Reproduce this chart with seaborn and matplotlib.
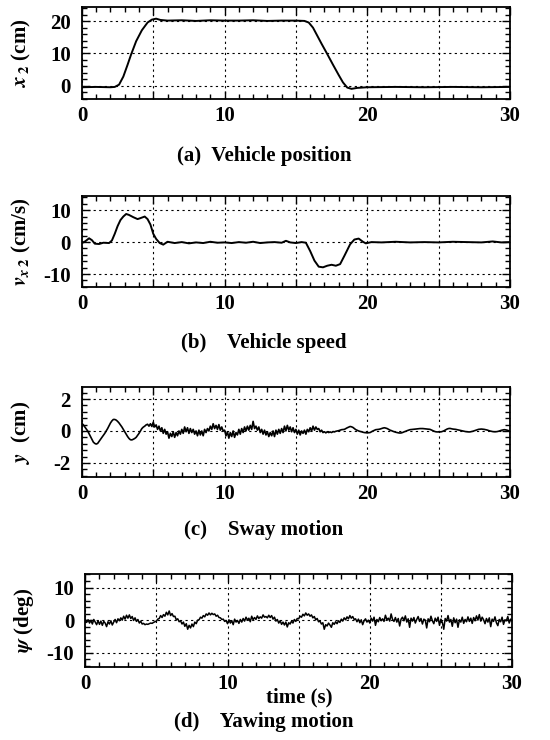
import numpy as np
import pandas as pd
import seaborn as sns
import matplotlib
matplotlib.use("Agg")
import matplotlib.pyplot as plt
from matplotlib.ticker import MultipleLocator, FuncFormatter

# (a) vehicle position x2 [cm]
pos_t = [0, 1.0, 2.0, 2.3, 2.6, 2.9, 3.2, 3.44, 3.8, 4.2, 4.6, 4.9, 5.2, 5.5, 6.0,
         7.0, 8.0, 9.0, 10.0, 11.0, 12.0, 13.0, 14.0, 15.0, 15.6, 15.9, 16.2, 16.5,
         16.8, 17.2, 17.6, 18.0, 18.3, 18.6, 18.9, 19.3, 20, 22, 24, 26, 28, 30]
pos_x2 = [-0.5, -0.4, -0.5, -0.4, 0.3, 2.8, 6.5, 9.6, 13.8, 17.2, 19.6, 20.5, 20.8,
          20.4, 20.2, 20.3, 20.1, 20.3, 20.2, 20.2, 20.3, 20.1, 20.2, 20.2, 20.1,
          19.6, 18.0, 15.5, 13.0, 9.8, 6.5, 3.3, 1.0, -0.6, -1.0, -0.7, -0.5, -0.4,
          -0.5, -0.4, -0.5, -0.4]

# (b) vehicle speed v_x2 [cm/s]
spd_t = [0, 0.25, 0.5, 0.7, 0.9, 1.2, 1.5, 1.9, 2.1, 2.3, 2.5, 2.7, 2.9, 3.1, 3.3,
         3.6, 3.9, 4.1, 4.4, 4.6, 4.8, 5.0, 5.2, 5.45, 5.7, 6.0, 6.5, 7.0, 7.5, 8.0,
         8.5, 9.0, 9.5, 10.0, 10.5, 11.0, 11.5, 12.0, 12.5, 13.0, 13.5, 14.0, 14.3,
         14.6, 15.0, 15.4, 15.7, 16.0, 16.3, 16.6, 16.9, 17.2, 17.5, 17.8, 18.1,
         18.4, 18.8, 19.1, 19.4, 19.7, 19.9, 20.3, 21, 22, 23, 24, 25, 26, 27, 28,
         28.8, 29.4, 30]
spd_v = [-0.3, 0.3, 1.2, 0.6, -0.5, -0.6, -0.2, -0.3, 0.5, 2.6, 5.0, 6.9, 8.0, 8.8,
         8.5, 7.8, 7.2, 7.5, 8.0, 7.2, 5.5, 2.6, 1.0, -0.3, -0.8, 0.1, -0.3, 0.0,
         -0.4, -0.1, -0.3, 0.1, -0.2, -0.1, -0.3, 0.0, -0.2, 0.1, -0.3, -0.1, 0.0,
         -0.2, 0.4, -0.1, -0.3, 0.0, -0.2, -2.8, -5.8, -7.7, -7.9, -7.4, -7.1, -7.4,
         -6.9, -4.3, -0.7, 0.8, 1.1, 0.1, -0.4, 0.0, -0.1, 0.1, -0.1, 0.0, -0.1, 0.1,
         0.0, -0.1, 0.2, -0.1, 0.0]

# (c) sway y [cm] and (d) yaw psi [deg], sampled every 0.1 s from 0 to 30 s
sample_t = np.linspace(0, 30, 301)
sway_y = [
    0.47, 0.38, 0.25, 0.12, 0.0, -0.18, -0.35, -0.52, -0.7, -0.78,
    -0.82, -0.78, -0.65, -0.52, -0.4, -0.28, -0.15, 0.0, 0.15, 0.33,
    0.5, 0.63, 0.72, 0.72, 0.68, 0.6, 0.5, 0.38, 0.25, 0.1,
    -0.05, -0.2, -0.35, -0.47, -0.55, -0.56, -0.52, -0.47, -0.4, -0.28,
    -0.15, 0.0, 0.15, 0.24, 0.3, 0.38, 0.42, 0.3, 0.45, 0.28,
    0.55, 0.25, 0.38, 0.1, 0.3, 0.0, 0.2, -0.15, 0.1, -0.2,
    -0.05, -0.45, -0.15, -0.35, -0.05, -0.4, -0.1, -0.3, 0.0, -0.2,
    0.1, -0.15, 0.25, -0.05, 0.2, -0.15, 0.15, -0.1, 0.1, -0.2,
    0.0, -0.3, 0.05, -0.25, 0.0, -0.3, 0.1, -0.1, 0.15, 0.0,
    0.3, 0.1, 0.45, 0.15, 0.35, 0.1, 0.4, 0.05, 0.25, 0.0,
    0.05, -0.3, -0.05, -0.45, -0.1, -0.35, 0.0, -0.4, -0.1, -0.25,
    0.1, -0.2, 0.15, -0.1, 0.25, 0.0, 0.3, 0.05, 0.35, 0.1,
    0.6, 0.15, 0.3, 0.05, 0.25, -0.1, 0.1, -0.2, 0.05, -0.25,
    -0.05, -0.35, -0.1, -0.3, 0.0, -0.35, 0.05, -0.2, 0.1, -0.15,
    0.15, -0.1, 0.3, 0.0, 0.35, 0.05, 0.25, -0.05, 0.2, -0.1,
    0.1, -0.2, 0.05, -0.25, 0.0, -0.15, 0.05, -0.2, 0.1, -0.05,
    0.2, 0.0, 0.3, 0.05, 0.25, 0.1, 0.15, -0.05, 0.05, -0.1,
    -0.05, -0.12, -0.05, -0.1, -0.06, -0.1, -0.04, -0.06, -0.02, 0.0,
    0.02, 0.05, 0.08, 0.09, 0.1, 0.15, 0.2, 0.24, 0.28, 0.26,
    0.22, 0.15, 0.08, 0.04, 0.0, -0.03, -0.05, -0.08, -0.1, -0.11,
    -0.12, -0.11, -0.1, -0.05, 0.0, 0.04, 0.08, 0.09, 0.1, 0.12,
    0.15, 0.18, 0.2, 0.18, 0.15, 0.1, 0.05, 0.02, -0.02, -0.05,
    -0.08, -0.1, -0.12, -0.13, -0.12, -0.09, -0.05, -0.02, 0.02, 0.05,
    0.08, 0.09, 0.1, 0.11, 0.12, 0.13, 0.14, 0.15, 0.15, 0.15,
    0.14, 0.13, 0.12, 0.11, 0.1, 0.06, 0.02, -0.02, -0.05, -0.06,
    -0.06, -0.06, -0.05, -0.02, 0.02, 0.07, 0.12, 0.15, 0.16, 0.14,
    0.12, 0.11, 0.1, 0.08, 0.06, 0.04, 0.02, 0.0, -0.02, -0.04,
    -0.05, -0.06, -0.06, -0.04, -0.02, 0.01, 0.04, 0.07, 0.1, 0.11,
    0.12, 0.11, 0.1, 0.08, 0.06, 0.03, 0.0, -0.02, -0.04, -0.05,
    -0.05, -0.04, -0.02, 0.01, 0.04, 0.06, 0.08, 0.07, 0.05, 0.02,
    0.0]
yaw_psi = [
    0.3, -0.7, 0.1, -0.9, -0.1, -1.2, 0.2, -0.6, -1.4, -0.2,
    -1.3, -0.3, -1.6, -0.4, -0.9, -2.0, -0.5, -1.2, -0.2, -1.5,
    -0.6, 0.2, -0.8, 0.4, -0.2, 0.7, 0.0, 1.2, 0.3, 1.5,
    0.6, 1.6, 0.5, 1.1, -0.1, 0.7, -0.4, 0.2, -0.9, -0.3,
    -1.2, -1.0, -1.4, -1.2, -1.3, -1.1, -0.9, -1.0, -0.7, -0.5,
    -0.3, 0.3, 0.5, 1.4, 0.8, 1.7, 1.2, 2.4, 1.6, 2.8,
    1.4, 2.0, 1.1, 1.2, 0.1, 0.4, -0.5, -0.2, -1.2, -0.6,
    -1.9, -1.1, -2.8, -1.6, -2.4, -1.2, -2.0, -0.6, -1.1, 0.0,
    0.1, 0.9, 0.6, 1.4, 1.0, 1.9, 1.5, 2.2, 1.6, 2.1,
    1.7, 1.9, 1.2, 1.5, 0.8, 0.7, 0.2, 0.3, -0.4, -0.1,
    -1.1, 0.1, -0.9, -0.2, -1.4, 0.3, -0.6, -0.1, -1.0, 0.2,
    -0.6, 0.5, -0.3, 0.9, 0.0, 0.6, -0.5, 1.2, 0.1, 0.8,
    0.2, 1.3, 0.5, 1.0, 0.6, 1.6, 0.9, 1.1, 0.7, 1.5,
    0.8, 1.4, 0.3, 0.9, -0.3, 0.2, -0.9, -0.2, -1.3, -0.6,
    -1.5, -0.6, -2.1, -0.8, -1.2, -0.3, -0.9, 0.2, -0.4, 0.5,
    0.4, 1.2, 0.9, 1.8, 1.3, 2.2, 1.5, 1.9, 1.2, 1.6,
    0.7, 1.1, 0.1, 0.5, -0.5, -0.3, -1.2, -0.8, -2.8, -1.4,
    -1.8, -0.9, -1.5, -2.2, -0.8, -1.3, -0.5, -1.1, -0.2, -0.7,
    0.3, -0.3, 0.7, 0.1, 1.0, 0.4, 1.4, 0.6, 1.1, 0.2,
    0.4, -0.5, 0.3, -0.8, 0.1, -1.4, -0.2, 0.4, -0.6, 0.0,
    -0.9, 0.6, -0.3, 0.9, -1.6, 0.2, -0.5, 0.8, -0.2, 0.4,
    -0.4, 1.5, 0.1, 0.6, -0.3, 1.9, 0.2, -0.4, 0.8, -0.6,
    0.5, -1.8, 0.3, 0.9, -0.2, 1.3, -0.6, 0.4, -2.2, 0.6,
    -0.3, 0.8, -0.9, 0.2, 1.1, -0.4, 0.5, -1.2, 0.3, 0.0,
    -2.4, 0.4, -0.5, 1.2, -0.2, -1.1, 0.6, -0.4, 0.9, -1.6,
    0.3, -0.7, -2.8, 0.5, -0.3, 1.4, -0.6, 0.2, -1.9, 0.7,
    -0.8, 0.3, -2.2, 0.1, -0.6, 0.9, -1.0, 0.2, -0.5, 1.0,
    -0.4, 0.6, -1.0, 0.8, -0.2, 1.3, 0.0, 1.7, -0.3, 0.9,
    0.1, -1.1, 0.5, -0.6, 0.7, -2.0, 0.3, -0.4, 1.0, -0.8,
    -1.7, 0.2, -0.5, 0.9, -1.3, 0.1, -0.2, 1.1, -0.9, 0.3,
    -0.3]

captions = ["(a)  Vehicle position", "(b)    Vehicle speed",
            "(c)    Sway motion", "(d)    Yawing motion"]
ylabels = [r"$x_{\,2}$ (cm)", r"$v_{x\;2}$ (cm/s)", r"$y$  (cm)", r"$\psi$ (deg)"]

sns.set_theme(style="ticks")
plt.rcParams["font.family"] = ["Liberation Serif", "DejaVu Serif"]
plt.rcParams["font.weight"] = "bold"
plt.rcParams["mathtext.fontset"] = "stix"
plt.rcParams["axes.unicode_minus"] = False

fig = plt.figure(figsize=(5.5, 7.4), dpi=100)
rects = [
    [0.149, 0.866, 0.778, 0.124],
    [0.149, 0.612, 0.778, 0.123],
    [0.149, 0.355, 0.778, 0.122],
    [0.155, 0.099, 0.776, 0.126],
]
frames = [
    pd.DataFrame({"t": pos_t, "v": pos_x2}),
    pd.DataFrame({"t": spd_t, "v": spd_v}),
    pd.DataFrame({"t": sample_t, "v": sway_y}),
    pd.DataFrame({"t": sample_t, "v": yaw_psi}),
]
ylims = [(-4.2, 24.3), (-14.1, 14.4), (-2.9, 2.75), (-14.3, 14.3)]
ymajor = [10, 10, 2, 10]
yminor = [2, 2, 0.4, 2]
cap_y = [0.789, 0.536, 0.284, 0.024]
line_w = [1.4, 1.4, 1.2, 1.1]

xfmt = FuncFormatter(lambda v, p: f"{v:g}" if abs(v % 10) < 1e-6 else "")

for i in range(4):
    ax = fig.add_axes(rects[i])
    sns.lineplot(data=frames[i], x="t", y="v", ax=ax, color="black",
                 linewidth=line_w[i], estimator=None, sort=False)
    ax.set_xlim(0, 30)
    ax.set_ylim(*ylims[i])
    ax.xaxis.set_major_locator(MultipleLocator(5))
    ax.xaxis.set_minor_locator(MultipleLocator(1))
    ax.xaxis.set_major_formatter(xfmt)
    ax.yaxis.set_major_locator(MultipleLocator(ymajor[i]))
    ax.yaxis.set_minor_locator(MultipleLocator(yminor[i]))
    ax.tick_params(which="both", direction="in", top=True, right=True,
                   color="black", width=1.0)
    ax.tick_params(which="major", length=6, labelsize=15, labelcolor="black")
    ax.tick_params(which="minor", length=3.5)
    ax.tick_params(axis="x", which="major", pad=5)
    ax.tick_params(axis="y", which="major", pad=8)
    ax.grid(True, which="major", linestyle=(0, (2, 3)), color="black",
            linewidth=0.8)
    for s in ax.spines.values():
        s.set_color("black")
        s.set_linewidth(1.3)
    ax.set_xlabel("")
    ax.set_ylabel(ylabels[i], fontsize=15, color="black", fontweight="bold")
    ax.yaxis.set_label_coords(-0.115, 0.5)
    fig.text(0.48, cap_y[i], captions[i], ha="center", va="center",
             fontsize=15, color="black", fontweight="bold")

fig.text(0.545, 0.058, "time (s)", ha="center", va="center", fontsize=15,
         color="black", fontweight="bold")

fig.savefig("out.png", dpi=100, facecolor="white")
